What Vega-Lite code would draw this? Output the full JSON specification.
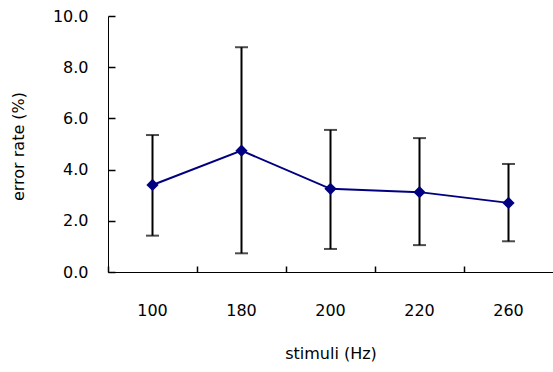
{
  "$schema": "https://vega.github.io/schema/vega-lite/v6.json",
  "autosize": "none",
  "width": 445,
  "height": 256,
  "padding": {"left": 108, "top": 16, "right": 0, "bottom": 100},
  "background": "white",
  "config": {
    "view": {"stroke": null},
    "font": "DejaVu Sans",
    "axis": {"grid": false, "domainColor": "#000000", "tickColor": "#000000", "labelColor": "#000000", "titleColor": "#000000", "labelFont": "DejaVu Sans", "titleFont": "DejaVu Sans", "labelFontSize": 16, "titleFontSize": 16, "titleFontWeight": "normal", "domainWidth": 1, "tickWidth": 1.5}
  },
  "data": {"values": [
    {"stimulus": "100", "rate": 3.40, "lo": 1.42, "hi": 5.35},
    {"stimulus": "180", "rate": 4.74, "lo": 0.73, "hi": 8.78},
    {"stimulus": "200", "rate": 3.25, "lo": 0.90, "hi": 5.55},
    {"stimulus": "220", "rate": 3.12, "lo": 1.05, "hi": 5.23},
    {"stimulus": "260", "rate": 2.70, "lo": 1.20, "hi": 4.22}
  ]},
  "encoding": {
    "x": {"field": "stimulus", "type": "ordinal", "sort": null, "scale": {"paddingInner": 0, "paddingOuter": 0}, "axis": null}
  },
  "layer": [
    {
      "mark": {"type": "rule", "color": "#000000", "strokeWidth": 2},
      "encoding": {
        "x": {"field": "stimulus", "type": "ordinal", "sort": null, "axis": {"orient": "bottom", "title": "stimuli (Hz)", "labelAngle": 0, "ticks": false, "labelPadding": 30, "titlePadding": 27, "domain": true}},
        "y": {"field": "lo", "type": "quantitative", "scale": {"domain": [0, 10]}, "axis": {"title": "error rate (%)", "values": [0, 2, 4, 6, 8, 10], "format": ".1f", "tickSize": -7, "labelPadding": 27, "titleX": -90, "titleY": 130, "titleBaseline": "middle", "titleAngle": -90}},
        "y2": {"field": "hi"}
      }
    },
    {
      "mark": {"type": "tick", "color": "#000000", "thickness": 2, "size": 13, "orient": "horizontal"},
      "encoding": {
        "x": {"field": "stimulus", "type": "ordinal", "sort": null, "axis": {"orient": "bottom", "bandPosition": 0, "labels": false, "domain": false, "tickSize": -6, "title": null}},
        "y": {"field": "lo", "type": "quantitative"}
      }
    },
    {
      "mark": {"type": "tick", "color": "#000000", "thickness": 2, "size": 13, "orient": "horizontal"},
      "encoding": {
        "y": {"field": "hi", "type": "quantitative"}
      }
    },
    {
      "mark": {"type": "line", "color": "#000080", "strokeWidth": 2},
      "encoding": {
        "y": {"field": "rate", "type": "quantitative"}
      }
    },
    {
      "mark": {"type": "point", "shape": "diamond", "filled": true, "color": "#000080", "size": 150, "opacity": 1},
      "encoding": {
        "y": {"field": "rate", "type": "quantitative"}
      }
    }
  ],
  "resolve": {"axis": {"x": "independent"}}
}
